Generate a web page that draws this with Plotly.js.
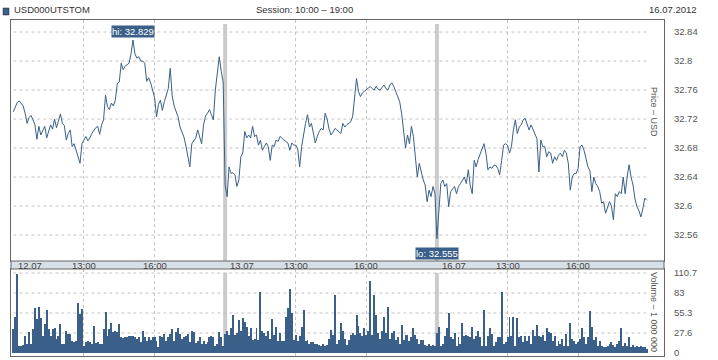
<!DOCTYPE html>
<html><head><meta charset="utf-8">
<script src="https://cdn.plot.ly/plotly-3.0.1.min.js"></script>
<style>html,body{margin:0;padding:0;background:#fff;}#chart{width:718px;height:360px;}</style>
</head><body><div id="chart"></div>
<script>
// ---- data ----
const ticker = 'USD000UTSTOM';
const sessionText = 'Session: 10:00 \u2013 19:00';
const reportDate = '16.07.2012';
const dayLabels = ['12.07', '13.07', '16.07'];
const slotsPerDay = 108;               // 5-minute slots 10:00-19:00
const timeTickLabels = ['13:00', '16:00'];
const timeTickSlots = [36, 72];
const priceTicks = [32.56, 32.6, 32.64, 32.68, 32.72, 32.76, 32.8, 32.84];
const volTicks = [0, 27.675, 55.35, 83.025, 110.7];
const volTickText = ['0', '27.6', '55.3', '83', '110.7'];

const price1 = [32.730,32.736,32.743,32.745,32.741,32.738,32.728,32.714,32.722,32.725,
32.719,32.712,32.692,32.710,32.698,32.704,32.710,32.694,32.703,32.712,
32.706,32.720,32.708,32.716,32.727,32.714,32.711,32.691,32.700,32.705,
32.682,32.686,32.675,32.668,32.659,32.686,32.691,32.696,32.690,32.694,
32.700,32.705,32.708,32.710,32.699,32.712,32.719,32.753,32.737,32.733,
32.742,32.738,32.746,32.769,32.771,32.797,32.788,32.793,32.795,32.797,
32.810,32.829,32.810,32.804,32.806,32.800,32.800,32.797,32.772,32.777,
32.770,32.760,32.750,32.723,32.740,32.746,32.732,32.744,32.752,32.762,
32.790,32.752,32.738,32.730,32.723,32.709,32.702,32.695,32.683,32.668,
32.654,32.686,32.690,32.694,32.705,32.696,32.686,32.712,32.724,32.728,
32.733,32.726,32.719,32.760,32.783,32.806,32.786,32.771];
const price2 = [32.629,32.613,32.654,32.645,32.646,32.643,32.627,32.636,32.668,32.673,
32.703,32.694,32.698,32.694,32.710,32.696,32.698,32.684,32.691,32.677,
32.682,32.687,32.682,32.663,32.684,32.682,32.691,32.689,32.696,32.693,
32.691,32.689,32.687,32.677,32.687,32.684,32.684,32.679,32.654,32.682,
32.700,32.714,32.726,32.709,32.714,32.700,32.687,32.696,32.703,32.707,
32.705,32.728,32.720,32.706,32.698,32.702,32.707,32.705,32.703,32.700,
32.714,32.709,32.712,32.714,32.716,32.723,32.748,32.776,32.758,32.751,
32.756,32.758,32.760,32.763,32.765,32.762,32.760,32.765,32.761,32.760,
32.764,32.767,32.762,32.760,32.767,32.770,32.765,32.758,32.751,32.744,
32.728,32.700,32.680,32.698,32.686,32.710,32.696,32.668,32.640,32.659,
32.645,32.636,32.629,32.606,32.622,32.613,32.627,32.617];
const price3 = [32.555,32.595,32.631,32.636,32.627,32.631,32.599,32.620,32.624,32.627,
32.617,32.627,32.631,32.636,32.640,32.631,32.650,32.628,32.617,32.663,
32.654,32.664,32.672,32.680,32.686,32.673,32.650,32.654,32.652,32.656,
32.656,32.652,32.643,32.663,32.684,32.686,32.684,32.673,32.682,32.705,
32.719,32.700,32.709,32.712,32.719,32.721,32.712,32.705,32.712,32.705,
32.700,32.693,32.647,32.691,32.682,32.682,32.668,32.675,32.673,32.659,
32.668,32.663,32.670,32.673,32.668,32.677,32.673,32.659,32.622,32.640,
32.645,32.645,32.652,32.682,32.684,32.677,32.666,32.654,32.649,32.620,
32.640,32.631,32.627,32.620,32.604,32.606,32.590,32.599,32.606,32.600,
32.581,32.617,32.613,32.620,32.617,32.640,32.617,32.640,32.657,32.640,
32.629,32.610,32.599,32.594,32.585,32.596,32.611,32.608];

const vol1 = [33,50,109,10,10,11,24,13,29,12, 33,62,47,63,49,24,40,59,33,24,
33,35,19,24,40,12,13,31,26,26, 17,15,17,69,54,61,10,15,16,15,
12,38,14,15,12,12,33,57,24,33, 42,29,31,29,40,22,21,22,22,24,
24,24,22,19,22,15,31,22,17,22, 18,22,22,17,8,24,22,26,16,22,
26,33,17,29,35,26,19,22,24,26, 15,31,29,14,16,22,12,16,12,15,
22,24,22,10,12,29,22,10];
const vol2 = [26,30,25,34,53,25,27,46,30,49, 43,36,23,34,18,20,34,18,85,30,
27,23,30,20,47,25,36,16,27,17, 16,50,62,88,55,18,25,16,24,36,
59,16,18,13,15,15,13,12,11,10, 12,9,11,20,32,25,80,13,18,41,
30,20,11,18,25,27,25,53,38,27, 23,34,25,30,100,25,80,53,27,20,
30,50,27,63,20,27,30,18,22,12, 39,18,25,25,16,22,35,25,20,13,
18,18,11,9,13,9,11,9];
const vol3 = [27,36,10,12,24,34,55,22,19,27, 10,22,13,42,23,25,24,22,36,20,
24,31,22,10,59,10,24,35,26,10, 15,22,22,84,12,15,22,50,24,50,
10,48,22,24,15,23,17,24,12,32, 24,39,24,22,25,17,34,29,28,17,
24,10,17,12,19,10,26,10,42,19, 17,12,15,19,34,22,12,22,58,36,
18,22,10,17,10,8,8,10,12,15, 11,8,12,17,35,10,14,10,22,8,
11,8,10,8,10,8,8,6];

// ---- build ----
const blue = '#3a5f88';
const fontFam = "'Liberation Sans',Arial,sans-serif";
const prices = [price1, price2, price3];
const vols = [vol1, vol2, vol3];
const xs = [], ys = [], vx = [], vy = [];
prices.forEach((arr, d) => arr.forEach((v, i) => { xs.push(d * slotsPerDay + i); ys.push(v); }));
vols.forEach((arr, d) => arr.forEach((v, i) => { vx.push(d * slotsPerDay + i); vy.push(v); }));
const nTot = slotsPerDay * dayLabels.length;

let hiI = 0, loI = 0;
ys.forEach((v, i) => { if (v > ys[hiI]) hiI = i; if (v < ys[loI]) loI = i; });

const gridTicks = [];
dayLabels.forEach((d, k) => timeTickSlots.forEach(s => gridTicks.push(k * slotsPerDay + s)));

const priceDom = [0.2827, 1], volDom = [0, 0.2589];
const gridLine = {color: '#c4c4c4', width: 1, dash: 'dot'};
const shapes = [];
shapes.push({type: 'rect', xref: 'paper', yref: 'paper', x0: 0, x1: 1, y0: volDom[1], y1: priceDom[0],
  fillcolor: '#d7dfe7', line: {color: '#666', width: 1}});
priceTicks.forEach(t => shapes.push({type: 'line', xref: 'x', yref: 'y', x0: 0, x1: nTot - 1, y0: t, y1: t, line: gridLine, layer: 'below'}));
volTicks.slice(1).forEach(t => shapes.push({type: 'line', xref: 'x2', yref: 'y2', x0: 0, x1: nTot - 1, y0: t, y1: t, line: gridLine, layer: 'below'}));
for (let d = 1; d < dayLabels.length; d++) {
  shapes.push({type: 'line', xref: 'x', yref: 'y domain', x0: d * slotsPerDay, x1: d * slotsPerDay, y0: 0, y1: 0.983, line: {color: '#cccccc', width: 4}, layer: 'below'});
  shapes.push({type: 'line', xref: 'x2', yref: 'y2 domain', x0: d * slotsPerDay, x1: d * slotsPerDay, y0: 0.035, y1: 0.955, line: {color: '#cccccc', width: 4}, layer: 'below'});
}
shapes.push({type: 'rect', xref: 'paper', yref: 'paper', x0: -0.0122, x1: -0.0031, y0: 1.0149, y1: 1.0357, fillcolor: blue, line: {color: '#223', width: 0.5}});

const annotations = [];
const txt = (s, c) => ({family: fontFam, size: s, color: c});
annotations.push({xref: 'paper', yref: 'paper', x: 0.0015, y: 1, yshift: 11, xanchor: 'left', yanchor: 'middle', text: ticker, showarrow: false, font: txt(9.5, '#333')});
annotations.push({xref: 'paper', yref: 'paper', x: 0.45, y: 1, yshift: 11, xanchor: 'center', yanchor: 'middle', text: sessionText, showarrow: false, font: txt(9.5, '#333')});
annotations.push({xref: 'paper', yref: 'paper', x: 1.0536, y: 1, yshift: 11, xanchor: 'right', yanchor: 'middle', text: reportDate, showarrow: false, font: txt(9.5, '#333')});
const bandY = (volDom[1] + priceDom[0]) / 2;
dayLabels.forEach((d, k) => {
  annotations.push({xref: 'x', yref: 'paper', x: k * slotsPerDay, y: bandY, xanchor: 'left', yanchor: 'middle', xshift: 3, text: d, showarrow: false, font: txt(9.5, '#444')});
  timeTickLabels.forEach((t, j) => annotations.push({xref: 'x', yref: 'paper', x: k * slotsPerDay + timeTickSlots[j], y: bandY, xanchor: 'center', yanchor: 'middle', text: t, showarrow: false, font: txt(9.5, '#444')}));
});
annotations.push({xref: 'paper', yref: 'paper', x: 1, xshift: -3, y: 0.726, xanchor: 'right', yanchor: 'middle', textangle: 90, text: 'Price \u2013 USD', showarrow: false, font: txt(9, '#555')});
annotations.push({xref: 'paper', yref: 'paper', x: 1, xshift: -3, y: 0.131, xanchor: 'right', yanchor: 'middle', textangle: 90, text: 'Volume \u2013 1 000 000', showarrow: false, font: txt(9, '#555')});
annotations.push({xref: 'x', yref: 'y', x: xs[hiI], y: ys[hiI], yshift: 9, xanchor: 'center', yanchor: 'middle', text: 'hi: ' + ys[hiI].toFixed(3), showarrow: false, bgcolor: blue, borderpad: 0, font: txt(9.5, '#fff')});
annotations.push({xref: 'x', yref: 'y', x: xs[loI], y: ys[loI], yshift: -15, xanchor: 'center', yanchor: 'middle', text: 'lo: ' + ys[loI].toFixed(3), showarrow: false, bgcolor: blue, borderpad: 0, font: txt(9.5, '#fff')});

const xCommon = {range: [-1.2, nTot + 7.8], tickvals: gridTicks, showticklabels: false, ticks: '',
  showgrid: true, gridcolor: '#c4c4c4', griddash: 'dot', gridwidth: 1, zeroline: false,
  showline: true, mirror: true, linecolor: '#666', linewidth: 1};
const yCommon = {side: 'right', showgrid: false, zeroline: false, ticks: '', showline: true, mirror: true,
  linecolor: '#666', linewidth: 1, tickfont: txt(9.5, '#555'), ticklabelstandoff: 7};

const traces = [
  {x: xs, y: ys, type: 'scatter', mode: 'lines', line: {color: blue, width: 1}, xaxis: 'x', yaxis: 'y', hoverinfo: 'skip'},
  {x: vx, y: vy, type: 'bar', marker: {color: blue, line: {width: 0}}, xaxis: 'x2', yaxis: 'y2', hoverinfo: 'skip'}
];
const layout = {
  width: 718, height: 360, margin: {l: 11, r: 54, t: 20, b: 4},
  paper_bgcolor: '#fff', plot_bgcolor: '#fff', showlegend: false, bargap: 0,
  font: {family: fontFam, size: 9.5, color: '#444'},
  xaxis: Object.assign({anchor: 'y'}, xCommon),
  xaxis2: Object.assign({anchor: 'y2', matches: 'x'}, xCommon),
  yaxis: Object.assign({domain: priceDom, range: [32.5242, 32.8566], tickvals: priceTicks, ticktext: priceTicks.map(String)}, yCommon),
  yaxis2: Object.assign({domain: volDom, range: [-4.15, 116.3], tickvals: volTicks, ticktext: volTickText}, yCommon),
  shapes: shapes, annotations: annotations
};
Plotly.newPlot('chart', traces, layout, {staticPlot: true, displayModeBar: false});
</script></body></html>
